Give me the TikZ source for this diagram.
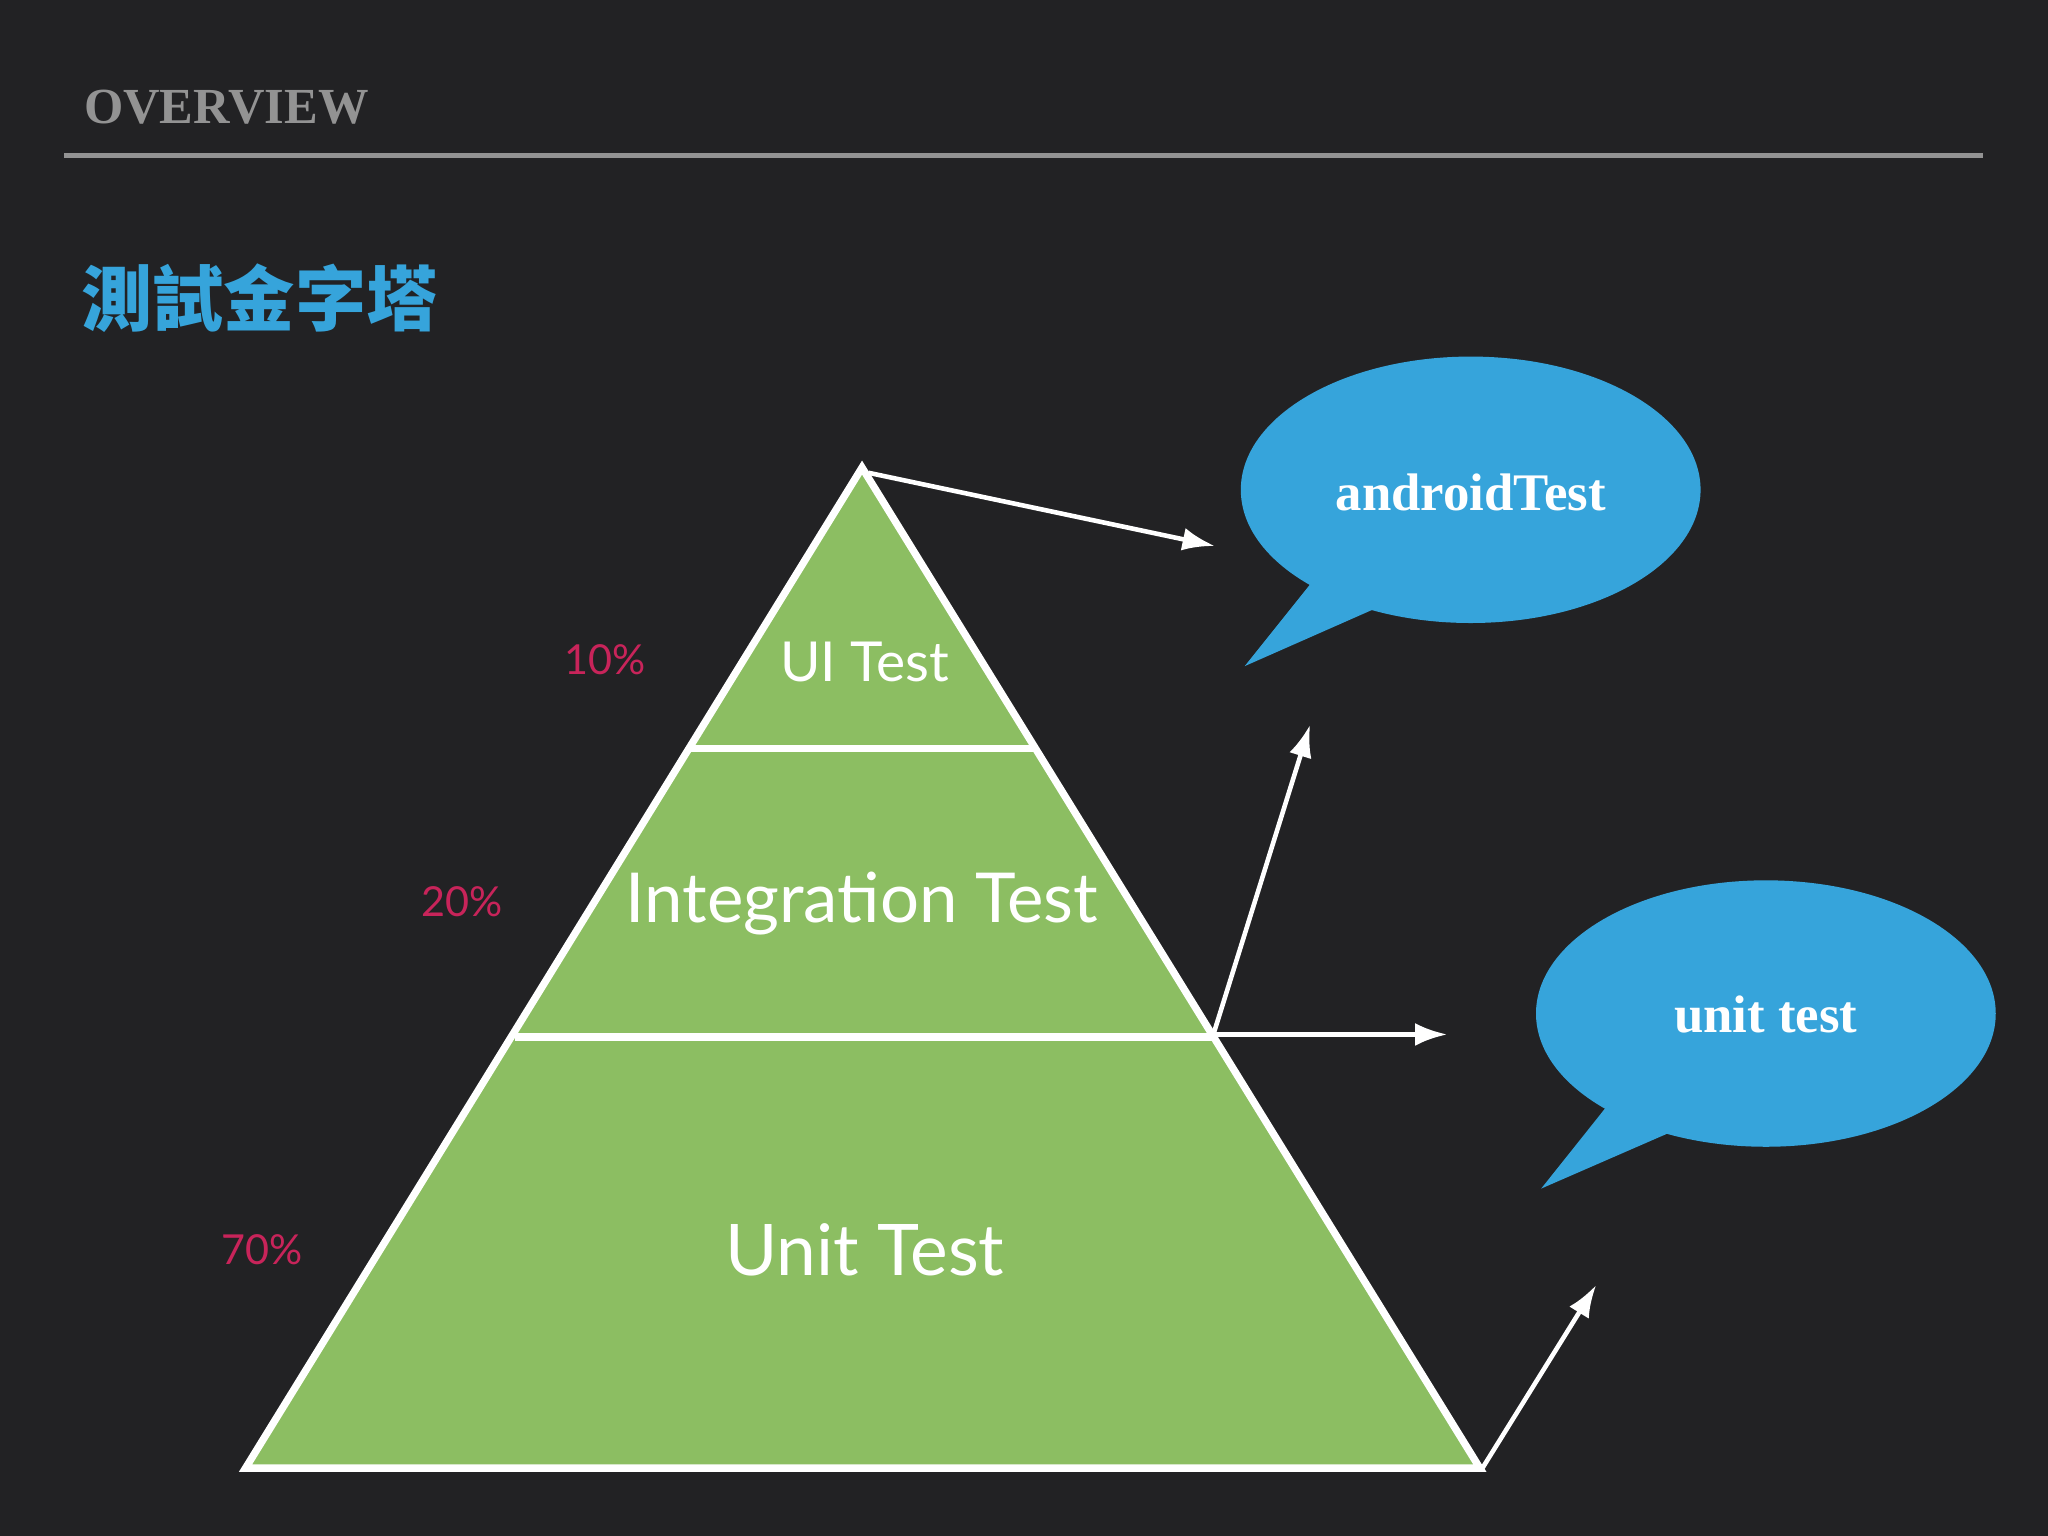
\documentclass[tikz,border=0pt]{standalone}
\usepackage{fontspec}
\setmainfont{Liberation Serif}
\setsansfont{Lato}
\newfontfamily\cjk{Noto Sans CJK TC}
\usetikzlibrary{arrows.meta}
\definecolor{bg}{HTML}{222224}
\definecolor{grn}{HTML}{8CBE62}
\definecolor{blu}{HTML}{36A4DB}
\definecolor{pct}{HTML}{C8245A}
\tikzset{x=0.01cm,y=-0.01cm,
 tier/.style={white,line width=1.6pt},
 arr/.style={white,line width=1pt,-{Latex[length=7pt,width=5pt]}},
 lbl/.style={font=\sffamily,text=white},
 pc/.style={font=\sffamily\fontsize{9}{10}\selectfont,text=pct},
 bub/.style={fill=blu,draw=none},
 bt/.style={font=\bfseries\fontsize{11.5}{13}\selectfont,text=white}}
\begin{document}
\begin{tikzpicture}
\fill[bg] (0,0) rectangle (1568,1176);
\useasboundingbox (0,0) rectangle (1568,1176);
\node[anchor=west,text=gray!85,font=\bfseries\fontsize{11}{12}\selectfont] (ov) at (52,82) {OVERVIEW};
\draw[gray!85,line width=1.2pt] (49,119) -- (1518,119);
\node[anchor=west,text=blu,font=\cjk\bfseries\fontsize{15.5}{17}\selectfont] (tt) at (50,228) {測試金字塔};
% pyramid
\fill[grn] (660,358) -- (1133,1124) -- (188,1124) -- cycle;
\draw[tier] (660,358) -- (1133,1124) -- (188,1124) -- cycle;
\draw[tier] (528,573) -- (792,573);
\draw[tier] (394,794) -- (929,794);
\coordinate (apex) at (665,362);
\coordinate (mid) at (929,792);
\coordinate (br) at (1135,1124);
\node[lbl,font=\sffamily\fontsize{12}{14}\selectfont] (ui) at (662,507) {UI Test};
\node[lbl,font=\sffamily\fontsize{15}{17}\selectfont] (it) at (660,692) {Integration Test};
\node[lbl,font=\sffamily\fontsize{15.5}{17}\selectfont] (ut) at (662,957) {Unit Test};
\node[pc] (p1) at (463,505) {10\%};
\node[pc] (p2) at (354,690) {20\%};
\node[pc] (p3) at (201,957) {70\%};
% bubbles
\fill[bub] (1126,375) ellipse [x radius=176, y radius=102];
\fill[bub] (1005,445) -- (953,510) -- (1055,465) -- cycle;
\node[bt] (b1) at (1126,377) {androidTest};
\fill[bub] (1352,776) ellipse [x radius=176, y radius=102];
\fill[bub] (1231,846) -- (1180,910) -- (1281,866) -- cycle;
\node[bt] (b2) at (1352,777) {unit test};
\coordinate (a1) at (930,418);
\coordinate (a2) at (1003,555);
\coordinate (a3) at (1108,792);
\coordinate (a4) at (1222,984);
\draw[arr] (apex) -- (a1);
\draw[arr] (mid) -- (a2);
\draw[arr] (mid) -- (a3);
\draw[arr] (br) -- (a4);
\end{tikzpicture}
\end{document}
